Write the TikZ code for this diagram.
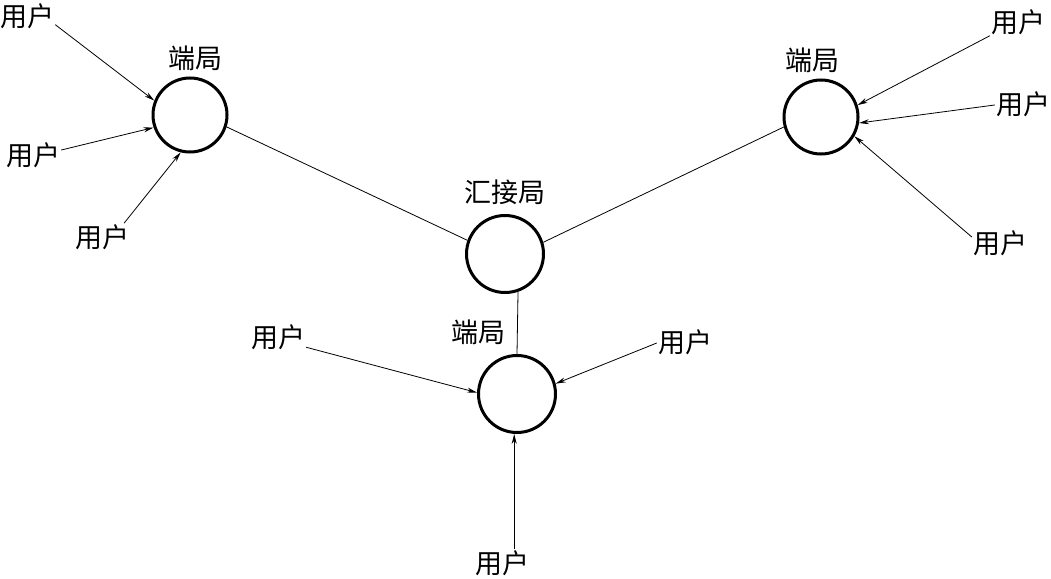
\documentclass[tikz,border=0pt]{standalone}
\usepackage{fontspec}
\newfontfamily\cjk{Noto Sans CJK SC}
\usetikzlibrary{arrows.meta}
\begin{document}
\begin{tikzpicture}[x=1pt,y=-1pt,
  office/.style={circle,draw,line width=3pt,inner sep=0pt},
  lbl/.style={font=\cjk\fontsize{27}{27}\selectfont,inner sep=1pt},
  link/.style={line width=0.8pt},
  feed/.style={line width=0.8pt,-{Stealth[length=10pt,width=5pt]}}]
\useasboundingbox (0,0) rectangle (1051,578);
% offices
\node[office,minimum size=74pt] (e1) at (190,115) {};
\node[office,minimum size=74pt] (e2) at (821,117) {};
\node[office,minimum size=77pt] (hub) at (505,254) {};
\node[office,minimum size=77pt] (bot) at (517,394) {};
% office labels
\node[lbl] (t1) at (195,58) {端局};
\node[lbl] (t2) at (812,60) {端局};
\node[lbl] (th) at (505,192) {汇接局};
\node[lbl] (tb) at (478,332) {端局};
% users
\node[lbl] (u1) at (27,16) {用户};
\node[lbl] (u2) at (33,155) {用户};
\node[lbl] (u3) at (102,237) {用户};
\node[lbl] (u4) at (1018,22) {用户};
\node[lbl] (u5) at (1023,104) {用户};
\node[lbl] (u6) at (1000,243) {用户};
\node[lbl] (u7) at (278,337) {用户};
\node[lbl] (u8) at (685,342) {用户};
\node[lbl] (u9) at (502,563) {用户};
% trunk links
\draw[link] (e1.-18) -- (hub.160);
\draw[link] (hub.17) -- (e2.195);
\draw[link] (hub.-71) -- (bot.north);
% user lines
\draw[feed] (u1.-17) -- (e1.158);
\draw[feed] (u2.10) -- (e1.199);
\draw[feed] (u3.32) -- (e1.256);
\draw[feed] (u4.206) -- (e2.18);
\draw[feed] (u5.182) -- (e2.-9);
\draw[feed] (u6.168) -- (e2.-30);
\draw[feed] (u7.-20) -- (bot.178);
\draw[feed] (u8.182) -- (bot.15);
\draw[feed] (u9.north -| bot.266) -- (bot.266);
\end{tikzpicture}
\end{document}
